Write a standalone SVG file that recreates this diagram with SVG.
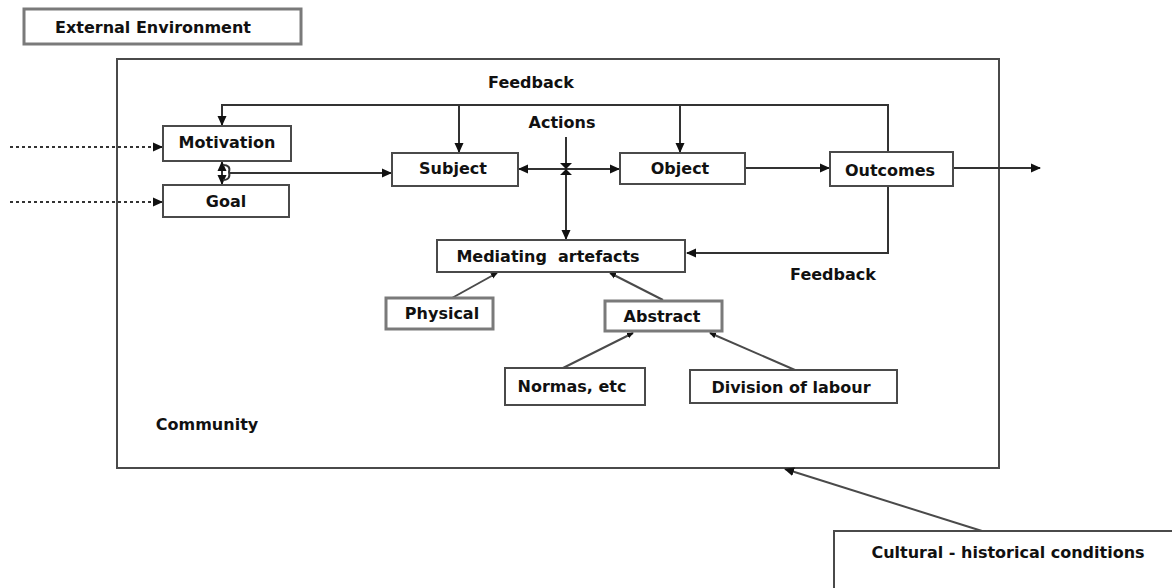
<svg xmlns="http://www.w3.org/2000/svg" width="1172" height="588" viewBox="0 0 1172 588">
<style>
.t{font-family:"DejaVu Sans","Liberation Sans",sans-serif;font-weight:bold;font-size:16px;fill:#111;text-anchor:middle}
.box{fill:#fff;stroke:#4a4a4a;stroke-width:2}
.gbox{fill:#fff;stroke:#7a7a7a;stroke-width:3}
.ln{fill:none;stroke:#333;stroke-width:2}
.dl{fill:none;stroke:#333;stroke-width:2;stroke-dasharray:3 3}
.tl{fill:none;stroke:#4a4a4a;stroke-width:2}
</style>
<defs>
<marker id="ar" markerUnits="userSpaceOnUse" markerWidth="10" markerHeight="10" refX="9" refY="5" orient="auto">
<path d="M0,0.5 L10,5 L0,9.5 Z" fill="#111"/>
</marker>
<marker id="dot" markerUnits="userSpaceOnUse" markerWidth="8" markerHeight="8" refX="6" refY="4" orient="auto">
<path d="M0,1 L7,4 L0,7 Z" fill="#111"/>
</marker>
</defs>
<rect width="1172" height="588" fill="#fff"/>

<g id="external-environment">
<rect x="24" y="9" width="277" height="35" class="gbox" stroke-width="2.5"/>
<text x="153" y="33" class="t">External Environment</text>
</g>

<g id="community">
<rect x="117" y="59" width="882" height="409" class="box"/>
<text x="207" y="430" class="t">Community</text>
</g>

<g id="labels">
<text x="531" y="88" class="t">Feedback</text>
<text x="562" y="128" class="t">Actions</text>
<text x="833" y="280" class="t">Feedback</text>
</g>

<g id="connectors">
<line x1="10" y1="147" x2="162" y2="147" class="dl" marker-end="url(#ar)"/>
<line x1="10" y1="202" x2="162" y2="202" class="dl" marker-end="url(#ar)"/>
<path d="M888,152 V105 H222 V125" class="ln" marker-end="url(#ar)"/>
<line x1="459" y1="105" x2="459" y2="152" class="ln" marker-end="url(#ar)"/>
<line x1="680" y1="105" x2="680" y2="152" class="ln" marker-end="url(#ar)"/>
<line x1="222" y1="172" x2="222" y2="162" class="ln" marker-end="url(#ar)"/>
<line x1="222" y1="172" x2="222" y2="184" class="ln" marker-end="url(#ar)"/>
<path d="M223,165 Q231,165 229,172 Q231,180 223,180" class="ln"/>
<line x1="229" y1="173" x2="391" y2="173" class="ln" marker-end="url(#ar)"/>
<line x1="566" y1="169" x2="519" y2="169" class="ln" marker-end="url(#ar)"/>
<line x1="566" y1="169" x2="619" y2="169" class="ln" marker-end="url(#ar)"/>
<line x1="566" y1="137" x2="566" y2="239" class="ln" marker-end="url(#ar)"/>
<path d="M560,163 L572,163 L566,169 Z M560,175 L572,175 L566,169 Z" fill="#111"/>
<line x1="745" y1="168" x2="829" y2="168" class="ln" marker-end="url(#ar)"/>
<line x1="953" y1="168" x2="1040" y2="168" class="ln" marker-end="url(#ar)"/>
<path d="M888,186 V253 H687" class="ln" marker-end="url(#ar)"/>
<line x1="452" y1="298" x2="497" y2="273" class="tl" marker-end="url(#dot)"/>
<line x1="663" y1="300" x2="610" y2="273" class="tl" marker-end="url(#dot)"/>
<line x1="563" y1="368" x2="633" y2="333" class="tl" marker-end="url(#dot)"/>
<line x1="795" y1="370" x2="710" y2="333" class="tl" marker-end="url(#dot)"/>
<line x1="982" y1="531" x2="785" y2="469" class="tl" marker-end="url(#ar)"/>
</g>

<g id="motivation">
<rect x="163" y="126" width="128" height="35" class="box"/>
<text x="227" y="148" class="t">Motivation</text>
</g>

<g id="goal">
<rect x="163" y="185" width="126" height="32" class="box"/>
<text x="226" y="207" class="t">Goal</text>
</g>

<g id="subject">
<rect x="392" y="153" width="126" height="33" class="box"/>
<text x="453" y="174" class="t">Subject</text>
</g>

<g id="object">
<rect x="620" y="153" width="125" height="31" class="box"/>
<text x="680" y="174" class="t">Object</text>
</g>

<g id="outcomes">
<rect x="830" y="152" width="123" height="34" class="box"/>
<text x="890" y="176" class="t">Outcomes</text>
</g>

<g id="mediating-artefacts">
<rect x="437" y="240" width="248" height="32" class="box"/>
<text x="548" y="262" class="t" xml:space="preserve">Mediating  artefacts</text>
</g>

<g id="physical">
<rect x="386" y="298" width="107" height="31" class="gbox"/>
<text x="442" y="319" class="t">Physical</text>
</g>

<g id="abstract">
<rect x="605" y="301" width="117" height="30" class="gbox"/>
<text x="662" y="322" class="t">Abstract</text>
</g>

<g id="normas">
<rect x="505" y="368" width="140" height="37" class="box"/>
<text x="572" y="392" class="t">Normas, etc</text>
</g>

<g id="division-of-labour">
<rect x="690" y="370" width="207" height="33" class="box"/>
<text x="791" y="393" class="t">Division of labour</text>
</g>

<g id="cultural-historical">
<rect x="834" y="531" width="345" height="70" class="box" stroke="#6a6a6a"/>
<text x="1008" y="558" class="t">Cultural - historical conditions</text>
</g>
</svg>
